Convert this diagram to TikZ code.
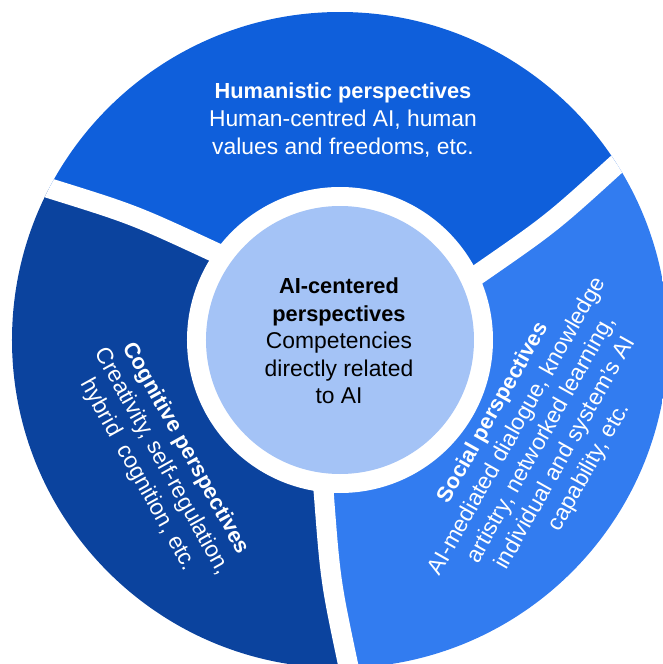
\documentclass[tikz,border=0pt]{standalone}
\usepackage{fontspec}
\setmainfont{Liberation Sans}
\usepackage{tikz}
\usetikzlibrary{calc}

\begin{document}
\begin{tikzpicture}[x=0.02cm,y=0.02cm]
    \definecolor{qfvfdb}{rgb}{0.0588,0.3725,0.8588}
    \definecolor{qbutze}{rgb}{0.0431,0.2627,0.6196}
    \definecolor{tsxcfq}{rgb}{0.1961,0.4863,0.9412}
    \definecolor{auctfw}{rgb}{0.6431,0.7647,0.9647}
    \tikzset{gapline/.style={white,line width=0.4cm},
        lbl/.style={align=center,font=\fontsize{13}{15.7}\selectfont}}
    \useasboundingbox (-340,-324) rectangle (323,340);
    \clip (-340,-324) rectangle (323,340);
    %sectors
    \begin{scope}
    \clip (0,0) circle (328);
    \fill[qfvfdb] (0,0)--(25.4:152)--($(25.4:152)!1.5!(32.5:330)$)--(90:500)--($(144.9:152)!1.5!(152.5:330)$)--(144.9:152)--cycle;
    \fill[qbutze] (0,0)--(144.9:152)--($(144.9:152)!1.5!(152.5:330)$)--(210:500)--($(263.8:152)!1.5!(271.6:330)$)--(263.8:152)--cycle;
    \fill[tsxcfq] (0,0)--(263.8:152)--($(263.8:152)!1.5!(271.6:330)$)--(-30:500)--($(25.4:152)!1.5!(32.5:330)$)--(25.4:152)--cycle;
    %gaps
    \foreach \a/\b in {25.4/32.5,144.9/152.5,263.8/271.6}{
        \coordinate (s) at (\a:152);
        \coordinate (e) at (\b:330);
        \coordinate (m) at ($(s)!0.5!(e)$);
        \draw[gapline] ($(s)!-0.2!(e)$) -- (s) .. controls ($(m)!0.12cm!-90:(e)$) .. (e) -- ($(s)!1.4!(e)$);
    }
    \end{scope}
    %center
    \fill[white] (0,0) circle (153);
    \fill[auctfw] (0,0) circle (134);
    %labels
    \node[lbl,text=white] (humanistic) at (3,220) {{\bfseries\fontsize{12.4}{15.7}\selectfont Humanistic perspectives}\\Human-centred AI, human\\values and freedoms, etc.};
    \node[lbl] (aicentered) at (-1,-1) {{\bfseries\fontsize{12.4}{15.7}\selectfont AI-centered}\\{\bfseries\fontsize{12.4}{15.7}\selectfont perspectives}\\Competencies\\directly related\\to AI};
    \node[lbl,text=white,rotate=60.6] (social) at (202,-100) {{\bfseries\fontsize{12.4}{15.7}\selectfont Social perspectives}\\AI-mediated dialogue, knowledge\\artistry, networked learning,\\individual and system's AI\\capability, etc.};
    \node[lbl,text=white,rotate=-60.9] (cognitive) at (-178.5,-122) {{\bfseries\fontsize{12.4}{15.7}\selectfont Cognitive perspectives}\\Creativity, self-regulation,\\hybrid\ \ cognition, etc.};
\end{tikzpicture}
\end{document}
